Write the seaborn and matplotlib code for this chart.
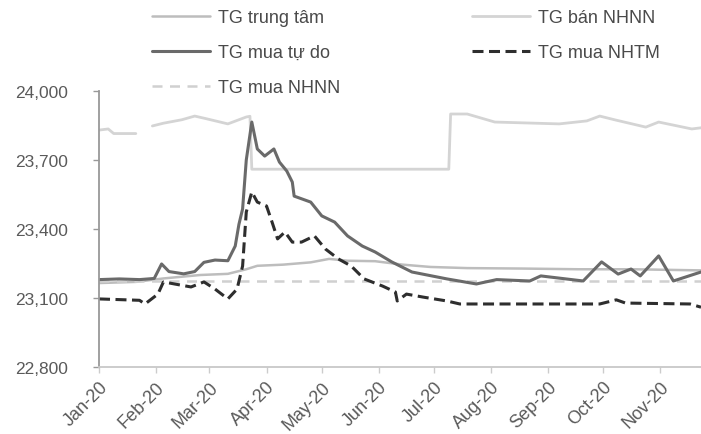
import matplotlib
matplotlib.use("Agg")
import matplotlib.pyplot as plt
import matplotlib.dates as mdates
from matplotlib.lines import Line2D
import pandas as pd
import seaborn as sns

# --- Tỷ giá USD/VND năm 2020 (VND) -------------------------------------------
# TG mua tự do (free-market buying rate)
free_dates = ["2020-01-01", "2020-01-12", "2020-01-23", "2020-01-31", "2020-02-04",
              "2020-02-08", "2020-02-16", "2020-02-22", "2020-02-27", "2020-03-04",
              "2020-03-11", "2020-03-15", "2020-03-17", "2020-03-19", "2020-03-21",
              "2020-03-24", "2020-03-27", "2020-03-31", "2020-04-05", "2020-04-08",
              "2020-04-12", "2020-04-15", "2020-04-16", "2020-04-25", "2020-05-01",
              "2020-05-08", "2020-05-15", "2020-05-23", "2020-05-30", "2020-06-08",
              "2020-06-19", "2020-07-08", "2020-07-24", "2020-08-04", "2020-08-22",
              "2020-08-28", "2020-09-20", "2020-09-30", "2020-10-09", "2020-10-16",
              "2020-10-21", "2020-10-31", "2020-11-08", "2020-11-23"]
free_vals = [23180, 23183, 23180, 23185, 23248,
             23215, 23205, 23215, 23255, 23265,
             23262, 23326, 23420, 23487, 23700,
             23865, 23748, 23717, 23748, 23691,
             23652, 23604, 23543, 23517, 23457,
             23430, 23370, 23326, 23300, 23257,
             23213, 23183, 23161, 23180, 23174,
             23196, 23174, 23257, 23204, 23226,
             23196, 23283, 23174, 23213]

# TG mua NHTM (commercial banks' buying rate)
nhtm_dates = ["2020-01-01", "2020-01-23", "2020-01-26", "2020-02-02", "2020-02-05",
              "2020-02-11", "2020-02-20", "2020-02-27", "2020-03-04", "2020-03-11",
              "2020-03-16", "2020-03-19", "2020-03-21", "2020-03-24", "2020-03-27",
              "2020-04-01", "2020-04-04", "2020-04-07", "2020-04-11", "2020-04-15",
              "2020-04-20", "2020-04-27", "2020-05-03", "2020-05-10", "2020-05-17",
              "2020-05-24", "2020-06-03", "2020-06-10", "2020-06-11", "2020-06-16",
              "2020-06-25", "2020-07-08", "2020-07-15", "2020-09-29", "2020-10-08",
              "2020-10-13", "2020-11-17", "2020-11-23"]
nhtm_vals = [23096, 23090, 23074, 23117, 23170,
             23161, 23148, 23170, 23139, 23096,
             23139, 23239, 23474, 23561, 23517,
             23500, 23430, 23357, 23387, 23343,
             23343, 23370, 23313, 23270, 23239,
             23183, 23152, 23126, 23087, 23117,
             23104, 23087, 23074, 23074, 23092,
             23078, 23074, 23060]

# TG trung tâm (central rate)
central_dates = ["2020-01-01", "2020-01-21", "2020-02-05", "2020-02-25", "2020-03-11",
                 "2020-03-21", "2020-03-27", "2020-04-10", "2020-04-25", "2020-05-05",
                 "2020-05-15", "2020-05-30", "2020-06-14", "2020-06-29", "2020-07-19",
                 "2020-08-18", "2020-09-17", "2020-10-17", "2020-11-23"]
central_vals = [23165, 23170, 23185, 23200, 23205,
                23225, 23240, 23245, 23255, 23270,
                23262, 23260, 23245, 23235, 23230,
                23228, 23225, 23225, 23220]

# TG bán NHNN (SBV selling rate); no quotes over the Tet holiday
sell_dates = ["2020-01-01", "2020-01-06", "2020-01-09", "2020-01-21",
              "2020-01-30", "2020-02-05", "2020-02-15", "2020-02-22", "2020-02-28",
              "2020-03-11", "2020-03-21", "2020-03-23", "2020-03-24", "2020-07-09",
              "2020-07-10", "2020-07-19", "2020-08-03", "2020-09-07", "2020-09-22",
              "2020-09-29", "2020-10-07", "2020-10-24", "2020-10-31", "2020-11-18",
              "2020-11-23"]
sell_vals = [23830, 23835, 23815, 23815,
             23848, 23860, 23875, 23891, 23880,
             23857, 23887, 23890, 23660, 23660,
             23900, 23900, 23865, 23857, 23870,
             23891, 23875, 23843, 23865, 23835,
             23840]
sell_segment = [0, 0, 0, 0] + [1] * 21

# TG mua NHNN (SBV buying rate)
buy_sbv_dates = ["2020-01-01", "2020-11-23"]
buy_sbv_vals = [23175, 23175]

y_ticks = [22800, 23100, 23400, 23700, 24000]

# --- styling ---------------------------------------------------------------
sns.set_theme(style="white")
plt.rcParams["font.family"] = ["Liberation Sans", "DejaVu Sans"]

fig = plt.figure(figsize=(7.01, 4.35), dpi=100)
ax = fig.add_axes([99 / 701, 67 / 435, (701 - 99) / 701, (368 - 92) / 435])

c_sell = "#d4d4d4"
c_central = "#bdbdbd"
c_buy_sbv = "#d0d0d0"
c_free = "#6a6a6a"
c_nhtm = "#2e2e2e"
dash_sbv = (0, (4, 3))
dash_nhtm = (0, (3.6, 1.8))

sell_df = pd.DataFrame({"date": pd.to_datetime(sell_dates), "rate": sell_vals,
                        "seg": sell_segment})
sns.lineplot(data=sell_df, x="date", y="rate", units="seg", estimator=None,
             ax=ax, color=c_sell, linewidth=2.0, legend=False)
sns.lineplot(x=pd.to_datetime(central_dates), y=central_vals, ax=ax,
             color=c_central, linewidth=1.8, legend=False)
sns.lineplot(x=pd.to_datetime(buy_sbv_dates), y=buy_sbv_vals, ax=ax,
             color=c_buy_sbv, linewidth=1.8, linestyle=dash_sbv, legend=False)
sns.lineplot(x=pd.to_datetime(free_dates), y=free_vals, ax=ax,
             color=c_free, linewidth=2.2, legend=False)
sns.lineplot(x=pd.to_datetime(nhtm_dates), y=nhtm_vals, ax=ax,
             color=c_nhtm, linewidth=2.2, linestyle=dash_nhtm, legend=False)

ax.set_xlim(pd.Timestamp("2020-01-01"), pd.Timestamp("2020-11-23"))
ax.set_ylim(22800, 24000)
ax.set_yticks(y_ticks)
ax.yaxis.set_major_formatter(matplotlib.ticker.FuncFormatter(lambda v, p: f"{v:,.0f}"))
ax.xaxis.set_major_locator(mdates.MonthLocator())
ax.xaxis.set_major_formatter(mdates.DateFormatter("%b-%y"))
ax.set_xlabel("")
ax.set_ylabel("")

for lab in ax.get_xticklabels():
    lab.set_rotation(45)
    lab.set_ha("right")
    lab.set_rotation_mode("anchor")

ax.tick_params(axis="y", which="major", left=True, length=4, width=1,
               color="#999999", labelsize=12.5, labelcolor="#5a5a5a", pad=18)
ax.tick_params(axis="x", which="major", bottom=True, length=4, width=1,
               color="#cccccc", labelsize=13, labelcolor="#5a5a5a", pad=4)

for side in ("top", "right"):
    ax.spines[side].set_visible(False)
ax.spines["left"].set_color("#999999")
ax.spines["left"].set_linewidth(1.3)
ax.spines["bottom"].set_color("#c8c8c8")
ax.spines["bottom"].set_linewidth(1.3)

left_handles = [
    Line2D([], [], color=c_central, linewidth=1.8),
    Line2D([], [], color=c_free, linewidth=2.2),
    Line2D([], [], color=c_buy_sbv, linewidth=1.8, linestyle=dash_sbv),
]
left_labels = ["TG trung tâm", "TG mua tự do", "TG mua NHNN"]
right_handles = [
    Line2D([], [], color=c_sell, linewidth=2.0),
    Line2D([], [], color=c_nhtm, linewidth=2.2, linestyle=dash_nhtm),
]
right_labels = ["TG bán NHNN", "TG mua NHTM"]

leg_kw = dict(loc="upper left", frameon=False, fontsize=13, labelcolor="#4a4a4a",
              handlelength=3.2, handletextpad=0.45, labelspacing=1.0,
              borderaxespad=0, borderpad=0)
fig.legend(left_handles, left_labels, bbox_to_anchor=(152 / 701, 1 - 10 / 435), **leg_kw)
fig.legend(right_handles, right_labels, bbox_to_anchor=(472 / 701, 1 - 10 / 435), **leg_kw)

fig.savefig("out.png", dpi=100, facecolor="white")
